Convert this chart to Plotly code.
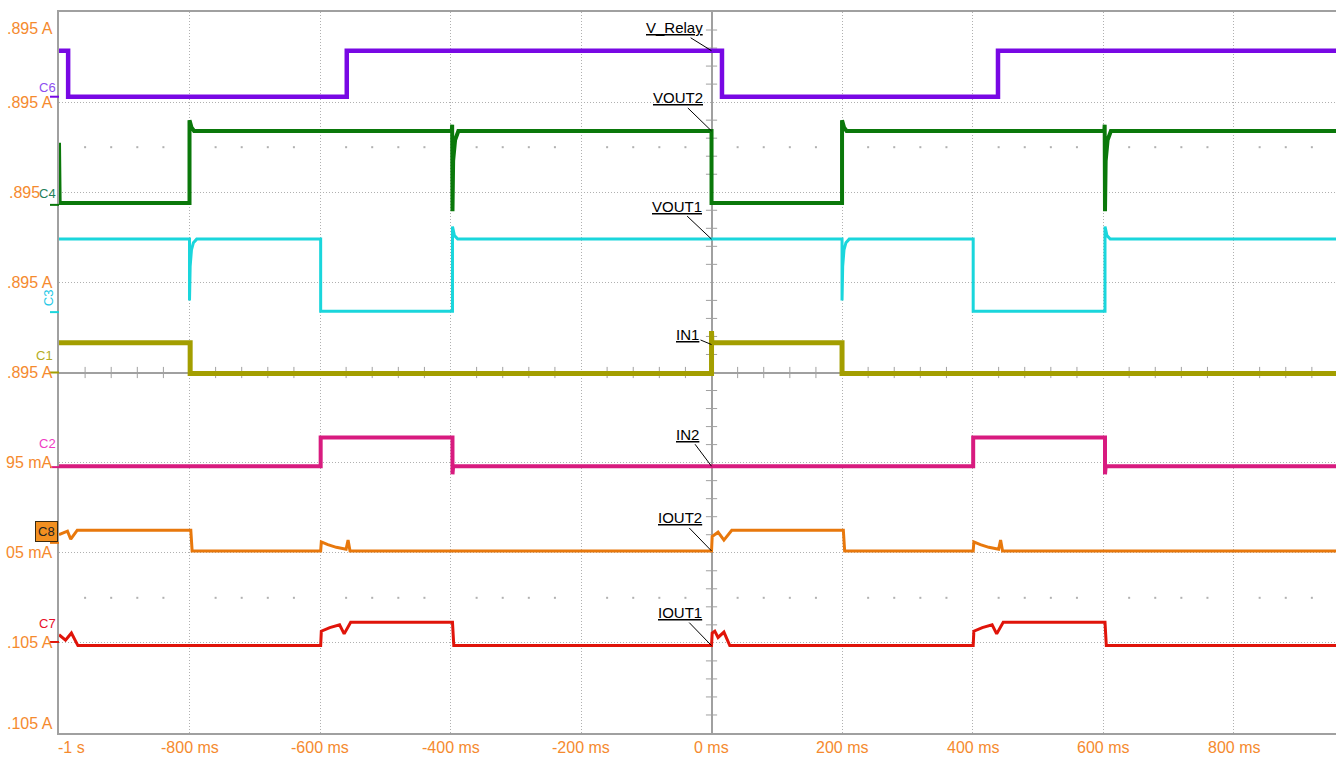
import numpy as np
import plotly.graph_objects as go

# Time axis (ms) and vertical scale in screen divisions (8 divisions, centre = 0)
X_MIN, X_MAX = -1000, 957
Y_MIN, Y_MAX = -4, 4

X_TICKS = [-1000, -800, -600, -400, -200, 0, 200, 400, 600, 800]
X_TICK_TEXT = ["-1 s", "-800 ms", "-600 ms", "-400 ms", "-200 ms", "0 ms",
               "200 ms", "400 ms", "600 ms", "800 ms"]
Y_TICKS = [4, 3, 2, 1, 0, -1, -2, -3, -4]
Y_TICK_TEXT = [".895 A", ".895 A", ".895", ".895 A", ".895 A", "95 mA",
               "05 mA", ".105 A", ".105 A"]

# C6 - relay drive voltage
V_RELAY_T = [-1000, -986, -986, -559, -559, 16, 16, 439, 439, 1000]
V_RELAY_V = [3.57, 3.57, 3.06, 3.06, 3.57, 3.57, 3.06, 3.06, 3.57, 3.57]

# C4 - VOUT2
VOUT2_T = [-1000, -999, -800, -800, -797, -793, -398, -397.5, -397, -396, -393, -388,
           0, 0, 200, 200, 203, 207, 602, 602.5, 603, 604, 607, 612, 1000]
VOUT2_V = [2.55, 1.88, 1.88, 2.80, 2.72, 2.68, 2.68, 2.75, 1.79, 2.35, 2.58, 2.68,
           2.68, 1.88, 1.88, 2.80, 2.72, 2.68, 2.68, 2.75, 1.79, 2.35, 2.58, 2.68, 2.68]

# C3 - VOUT1
VOUT1_T = [-1000, -800, -800, -799, -797, -794, -789, -599, -599, -397, -397, -394, -389,
           200, 200, 201, 203, 206, 211, 401, 401, 603, 603, 606, 611, 1000]
VOUT1_V = [1.48, 1.48, 0.80, 1.18, 1.36, 1.44, 1.48, 1.48, 0.68, 0.68, 1.62, 1.52, 1.48,
           1.48, 0.80, 1.18, 1.36, 1.44, 1.48, 1.48, 0.68, 0.68, 1.62, 1.52, 1.48, 1.48]

# C1 - IN1
IN1_T = [-1000, -799, -799, 0, 0, 0.5, 200, 200, 1000]
IN1_V = [0.33, 0.33, -0.01, -0.01, 0.46, 0.33, 0.33, -0.01, -0.01]

# C2 - IN2
IN2_T = [-1000, -599, -599, -397, -397, -396, 401, 401, 603, 603, 604, 1000]
IN2_V = [-1.04, -1.04, -0.72, -0.72, -1.13, -1.04, -1.04, -0.72, -0.72, -1.13, -1.04, -1.04]

# C8 - IOUT2
IOUT2_T = [-1000, -992, -987, -982, -972, -798, -796, -599, -598, -588, -575, -560, -557, -554,
           0, 1, 6, 10, 19, 31, 202, 204, 401, 402, 412, 425, 440, 443, 446, 1000]
IOUT2_V = [-1.80, -1.77, -1.76, -1.85, -1.75, -1.75, -1.98, -1.98, -1.88, -1.91, -1.94, -1.96,
           -1.86, -1.98, -1.98, -1.82, -1.79, -1.77, -1.86, -1.75, -1.75, -1.98, -1.98, -1.88,
           -1.91, -1.94, -1.96, -1.86, -1.98, -1.98]

# C7 - IOUT1
IOUT1_T = [-1000, -990, -981, -971, -599, -598, -585, -570, -563, -553, -397, -395,
           0, 1, 5, 10, 19, 28, 401, 402, 415, 430, 437, 447, 603, 605, 1000]
IOUT1_V = [-2.91, -2.97, -2.89, -3.03, -3.03, -2.87, -2.83, -2.80, -2.90, -2.77, -2.77, -3.03,
           -3.03, -2.89, -2.87, -2.94, -2.88, -3.03, -3.03, -2.87, -2.83, -2.80, -2.90, -2.77,
           -2.77, -3.03, -3.03]

FONT = "Liberation Sans Narrow, Arial Narrow, Liberation Sans, Arial, sans-serif"
LABEL_ORANGE = "#F58A2E"
GRID = "#B0B0B0"

channels = [
    # name, t, v, colour, width, channel tag, tag colour, tag y, offset y, leader text offset (px)
    ("V_Relay", V_RELAY_T, V_RELAY_V, "#7808E4", 4.5, "C6", "#8E4FF0", 3.16, 3.06, (-37, -23)),
    ("VOUT2", VOUT2_T, VOUT2_V, "#0A780A", 4, "C4", "#1F7F5A", 1.99, 1.86, (-34, -33)),
    ("VOUT1", VOUT1_T, VOUT1_V, "#1AD6DC", 3, "C3", "#22C8E6", 0.83, 0.67, (-35, -33)),
    ("IN1", IN1_T, IN1_V, "#A39E00", 5, "C1", "#B4AC24", 0.19, 0.0, (-24, -10)),
    ("IN2", IN2_T, IN2_V, "#D81B7F", 4, "C2", "#F03CC4", -0.79, -1.05, (-24, -32)),
    ("IOUT2", IOUT2_T, IOUT2_V, "#E8780C", 3, "C8", "#222222", -1.76, -1.89, (-32, -33)),
    ("IOUT1", IOUT1_T, IOUT1_V, "#E0140A", 3, "C7", "#E8102A", -2.79, -2.99, (-32, -33)),
]

fig = go.Figure()

# graticule: dotted rows at +/-2.5 div, tick marks along the centre lines
minor_t = np.arange(-1000, 1001, 40)
minor_t = minor_t[minor_t % 200 != 0]
fig.add_trace(go.Scatter(
    x=np.concatenate([minor_t, minor_t]),
    y=np.concatenate([np.full(minor_t.size, 2.5), np.full(minor_t.size, -2.5)]),
    mode="markers", marker=dict(symbol="square", size=2, color="#B0B0B0"),
    hoverinfo="skip", showlegend=False))
fig.add_trace(go.Scatter(
    x=minor_t, y=np.zeros(minor_t.size), mode="markers",
    marker=dict(symbol="line-ns", size=8, line=dict(width=1, color="#A0A0A0")),
    hoverinfo="skip", showlegend=False))
minor_v = np.round(np.arange(-4, 4.01, 0.2), 2)
minor_v = minor_v[np.abs(minor_v - np.round(minor_v)) > 1e-6]
fig.add_trace(go.Scatter(
    x=np.zeros(minor_v.size), y=minor_v, mode="markers",
    marker=dict(symbol="line-ew", size=8, line=dict(width=1, color="#A0A0A0")),
    hoverinfo="skip", showlegend=False))

for name, t, v, col, w, tag, tagcol, tag_y, off_y, (ax, ay) in channels:
    fig.add_trace(go.Scatter(x=t, y=v, mode="lines", name=name,
                             line=dict(color=col, width=w), showlegend=False))

# trigger marker
fig.add_trace(go.Scatter(x=[0], y=[-4.12], mode="markers", cliponaxis=False,
                         marker=dict(symbol="triangle-up", size=11, color="#ABA300"),
                         hoverinfo="skip", showlegend=False))

# leader end points on each trace at t = 0
LEADER_Y = {"V_Relay": 3.57, "VOUT2": 2.68, "VOUT1": 1.48, "IN1": 0.31,
            "IN2": -1.04, "IOUT2": -1.98, "IOUT1": -3.03}

annotations = []
shapes = []
for name, t, v, col, w, tag, tagcol, tag_y, off_y, (ax, ay) in channels:
    # trace name with leader line to the trace at t = 0
    annotations.append(dict(
        x=0, y=LEADER_Y[name], xref="x", yref="y", text=f"<u>{name}</u>",
        showarrow=True, arrowhead=0, arrowwidth=1, arrowcolor="#000000",
        ax=ax, ay=ay, standoff=0, startstandoff=0,
        font=dict(family=FONT, size=15, color="#000000")))
    # channel tag on the left edge
    if tag == "C8":
        annotations.append(dict(
            x=0, y=tag_y, xref="paper", yref="y", text=tag, showarrow=False,
            xanchor="right", xshift=-1, bgcolor="#F39020", bordercolor="#3A2A10",
            borderwidth=1, borderpad=2, font=dict(family=FONT, size=13, color=tagcol)))
    else:
        annotations.append(dict(
            x=0, y=tag_y, xref="paper", yref="y", text=tag, showarrow=False,
            xanchor="right", xshift=-1 if tag != "C1" else -4,
            textangle=-90 if tag == "C3" else 0,
            font=dict(family=FONT, size=13, color=tagcol)))
    # channel offset marker
    shapes.append(dict(type="line", xref="paper", yref="y", x0=-9 / 1277, x1=0,
                       y0=off_y, y1=off_y, line=dict(color=col, width=2)))

for val, txt in zip(Y_TICKS, Y_TICK_TEXT):
    shift = -16 if val == Y_MAX else (10 if val == Y_MIN else 0)
    xs = -17 if txt == ".895" else -4
    annotations.append(dict(x=0, y=val, xref="paper", yref="y", text=txt,
                            showarrow=False, xanchor="right", xshift=xs, yshift=shift,
                            font=dict(family=FONT, size=16, color=LABEL_ORANGE)))

for val, txt in zip(X_TICKS, X_TICK_TEXT):
    annotations.append(dict(x=val, y=0, xref="x", yref="paper", text=txt,
                            showarrow=False, xanchor="left" if val == X_MIN else "center",
                            xshift=-3 if val == X_MIN else 0,
                            yanchor="top", yshift=-4,
                            font=dict(family=FONT, size=16, color=LABEL_ORANGE)))

fig.update_layout(
    width=1336, height=760,
    margin=dict(l=59, r=0, t=12, b=27),
    paper_bgcolor="white", plot_bgcolor="white",
    annotations=annotations, shapes=shapes,
    xaxis=dict(range=[X_MIN, X_MAX], tick0=-1000, dtick=200, showticklabels=False,
               ticks="", showgrid=True, gridcolor=GRID, griddash="1px,2px", gridwidth=1,
               zeroline=True, zerolinecolor="#A0A0A0", zerolinewidth=1.5,
               showline=True, mirror=True, linecolor="#A0A0A0", linewidth=2, fixedrange=True),
    yaxis=dict(range=[Y_MIN, Y_MAX], tick0=0, dtick=1, showticklabels=False,
               ticks="", showgrid=True, gridcolor=GRID, griddash="1px,2px", gridwidth=1,
               zeroline=True, zerolinecolor="#A0A0A0", zerolinewidth=1.5,
               showline=True, mirror=False, linecolor="#A0A0A0", linewidth=2, fixedrange=True),
)

fig.write_html("out.html")
